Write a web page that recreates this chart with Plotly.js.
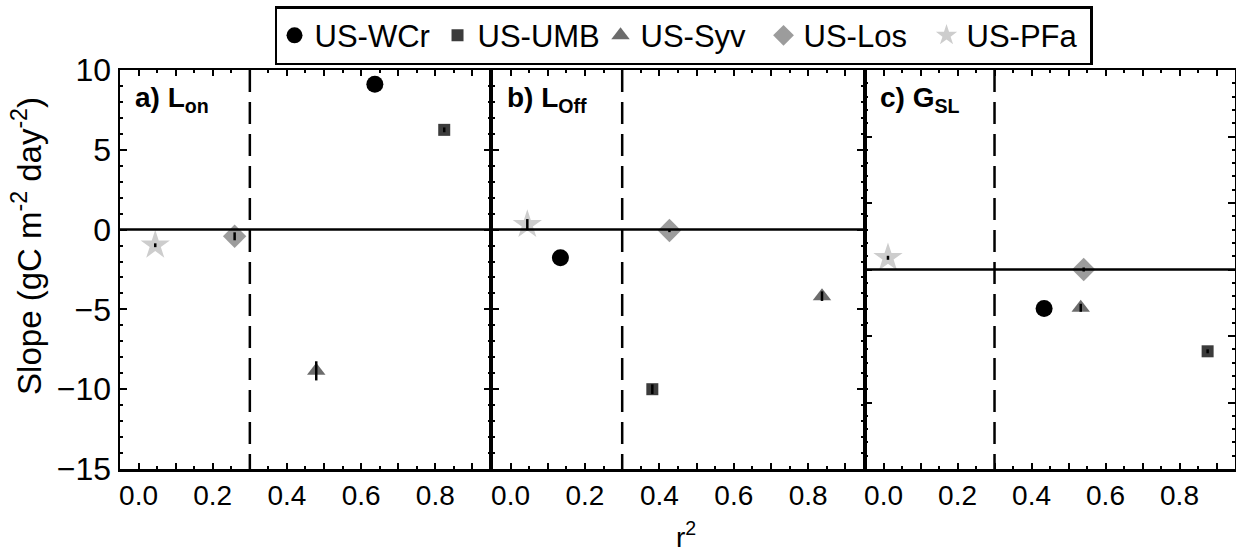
<!DOCTYPE html>
<html>
<head>
<meta charset="utf-8">
<script src="https://cdn.plot.ly/plotly-3.0.1.min.js"></script>
<style>html,body{margin:0;padding:0;background:#fff;}#chart{width:1236px;height:557px;}</style>
</head>
<body>
<div id="chart"></div>
<script>
// ---- data ----
const sites = ['US-WCr', 'US-UMB', 'US-Syv', 'US-Los', 'US-PFa'];
const symbols = ['circle', 'square', 'triangle-up', 'diamond', 'star'];
const colors = ['#000000', '#3c3c3c', '#6c6c6c', '#9c9c9c', '#cdcdcd'];
const sizes = [17, 12, 16, 18, 22];

const panelNames = ['a) L<sub>on</sub>', 'b) L<sub>Off</sub>', 'c) G<sub>SL</sub>'];

// panel a: L_on
const lonR2 = [0.637, 0.824, 0.479, 0.259, 0.045];
const lonSlope = [9.1, 6.25, -8.85, -0.42, -0.98];
const lonErr = [0.1, 0.15, 0.6, 0.25, 0.12];
// panel b: L_Off
const loffR2 = [0.134, 0.381, 0.837, 0.427, 0.045];
const loffSlope = [-1.77, -10.0, -4.17, -0.06, 0.31];
const loffErr = [0.1, 0.3, 0.3, 0.1, 0.35];
// panel c: G_SL (own scale)
const gslR2 = [0.434, 0.876, 0.533, 0.541, 0.012];
const gslSlope = [-5.86, -12.3, -5.76, 0.0, 1.76];
const gslErr = [0.2, 0.3, 0.6, 0.3, 0.3];

const r2Threshold = 0.3;

const panels = [
  {r2: lonR2, s: lonSlope, e: lonErr, xa: 'x', ya: 'y'},
  {r2: loffR2, s: loffSlope, e: loffErr, xa: 'x2', ya: 'y2'},
  {r2: gslR2, s: gslSlope, e: gslErr, xa: 'x3', ya: 'y3'}
];

const traces = [];
panels.forEach((p, pi) => {
  sites.forEach((site, i) => {
    traces.push({
      type: 'scatter', mode: 'markers',
      x: [p.r2[i]], y: [p.s[i]],
      xaxis: p.xa, yaxis: p.ya,
      name: site, legendgroup: site, showlegend: pi === 0,
      marker: {symbol: symbols[i], color: colors[i], size: sizes[i], line: {width: 0}},
      cliponaxis: false
    });
  });
  // error bars drawn on top of markers
  traces.push({
    type: 'scatter', mode: 'markers',
    x: p.r2, y: p.s, xaxis: p.xa, yaxis: p.ya,
    showlegend: false, hoverinfo: 'skip',
    marker: {size: 1, opacity: 0},
    error_y: {type: 'data', array: p.e, visible: true, width: 0, thickness: 2.5, color: '#000'}
  });
});

const font = 'Liberation Sans, Arial, Helvetica, sans-serif';
function xax(domain, anchor) {
  return {
    domain: domain, range: [-0.05, 0.95], anchor: anchor,
    tickmode: 'linear', tick0: 0, dtick: 0.1, ticklabelstep: 2, tickformat: '.1f',
    ticks: 'inside', ticklen: 6, tickwidth: 2, tickcolor: '#000',
    minor: {tickmode: 'linear', tick0: 0, dtick: 0.05, ticks: 'inside', ticklen: 3, tickwidth: 2, tickcolor: '#000'},
    showline: true, linewidth: 2.5, linecolor: '#000', mirror: 'ticks',
    showgrid: false, zeroline: false,
    tickfont: {family: font, size: 28, color: '#000'}
  };
}
function yax(range, dtick, anchor, labels) {
  return {
    domain: [0, 1], range: range, dtick: dtick, tick0: 0, anchor: anchor,
    ticks: 'inside', ticklen: 7, tickwidth: 2, tickcolor: '#000',
    minor: {dtick: dtick / 5, ticks: 'inside', ticklen: 3, tickwidth: 2, tickcolor: '#000'},
    showline: true, linewidth: 2.5, linecolor: '#000', mirror: 'ticks',
    showgrid: false, zeroline: false, showticklabels: labels,
    tickfont: {family: font, size: 32, color: '#000'}
  };
}

const shapes = [];
const annotations = [];
['x', 'x2', 'x3'].forEach((xa, k) => {
  const ya = ['y', 'y2', 'y3'][k];
  shapes.push({type: 'line', xref: xa + ' domain', yref: ya, x0: 0, x1: 1, y0: 0, y1: 0,
    line: {color: '#000', width: 2.5}});
  shapes.push({type: 'line', xref: xa, yref: ya + ' domain', x0: r2Threshold, x1: r2Threshold, y0: 1, y1: 0,
    line: {color: '#000', width: 2.5, dash: '22px,10px'}});
  annotations.push({xref: xa + ' domain', yref: ya + ' domain', x: 0.035, y: 0.975,
    xanchor: 'left', yanchor: 'top', showarrow: false,
    text: '<b>' + panelNames[k] + '</b>', font: {family: font, size: 28, color: '#000'}});
});

annotations.push({xref: 'paper', yref: 'paper', x: 0.508, y: -0.165, showarrow: false,
  xanchor: 'center', yanchor: 'middle', text: 'r<sup>2</sup>', font: {family: font, size: 28, color: '#000'}});
annotations.push({xref: 'paper', yref: 'paper', x: -0.084, y: 0.56, showarrow: false, textangle: -90,
  xanchor: 'center', yanchor: 'middle', text: 'Slope (gC m<sup>-2</sup> day<sup>-2</sup>)',
  font: {family: font, size: 33, color: '#000'}});

const layout = {
  width: 1236, height: 557,
  margin: {l: 120, r: 1, t: 70, b: 88},
  paper_bgcolor: '#fff', plot_bgcolor: '#fff',
  showlegend: true,
  legend: {orientation: 'h', x: 0.5054, xanchor: 'center', y: 1.16, yanchor: 'top',
    bordercolor: '#000', borderwidth: 2.5, bgcolor: '#fff',
    font: {family: font, size: 31, color: '#000'},
    itemwidth: 30, entrywidth: 118, entrywidthmode: 'pixels', tracegroupgap: 0},
  xaxis: xax([0, 0.3327], 'y'),
  xaxis2: xax([0.3336, 0.6673], 'y2'),
  xaxis3: xax([0.6682, 1], 'y3'),
  yaxis: yax([-15, 10], 5, 'x', true),
  yaxis2: Object.assign(yax([-15, 10], 5, 'x2', false), {matches: 'y'}),
  yaxis3: yax([-30, 30], 10, 'x3', false),
  shapes: shapes,
  annotations: annotations
};

Plotly.newPlot('chart', traces, layout, {displayModeBar: false, staticPlot: true});
</script>
</body>
</html>
